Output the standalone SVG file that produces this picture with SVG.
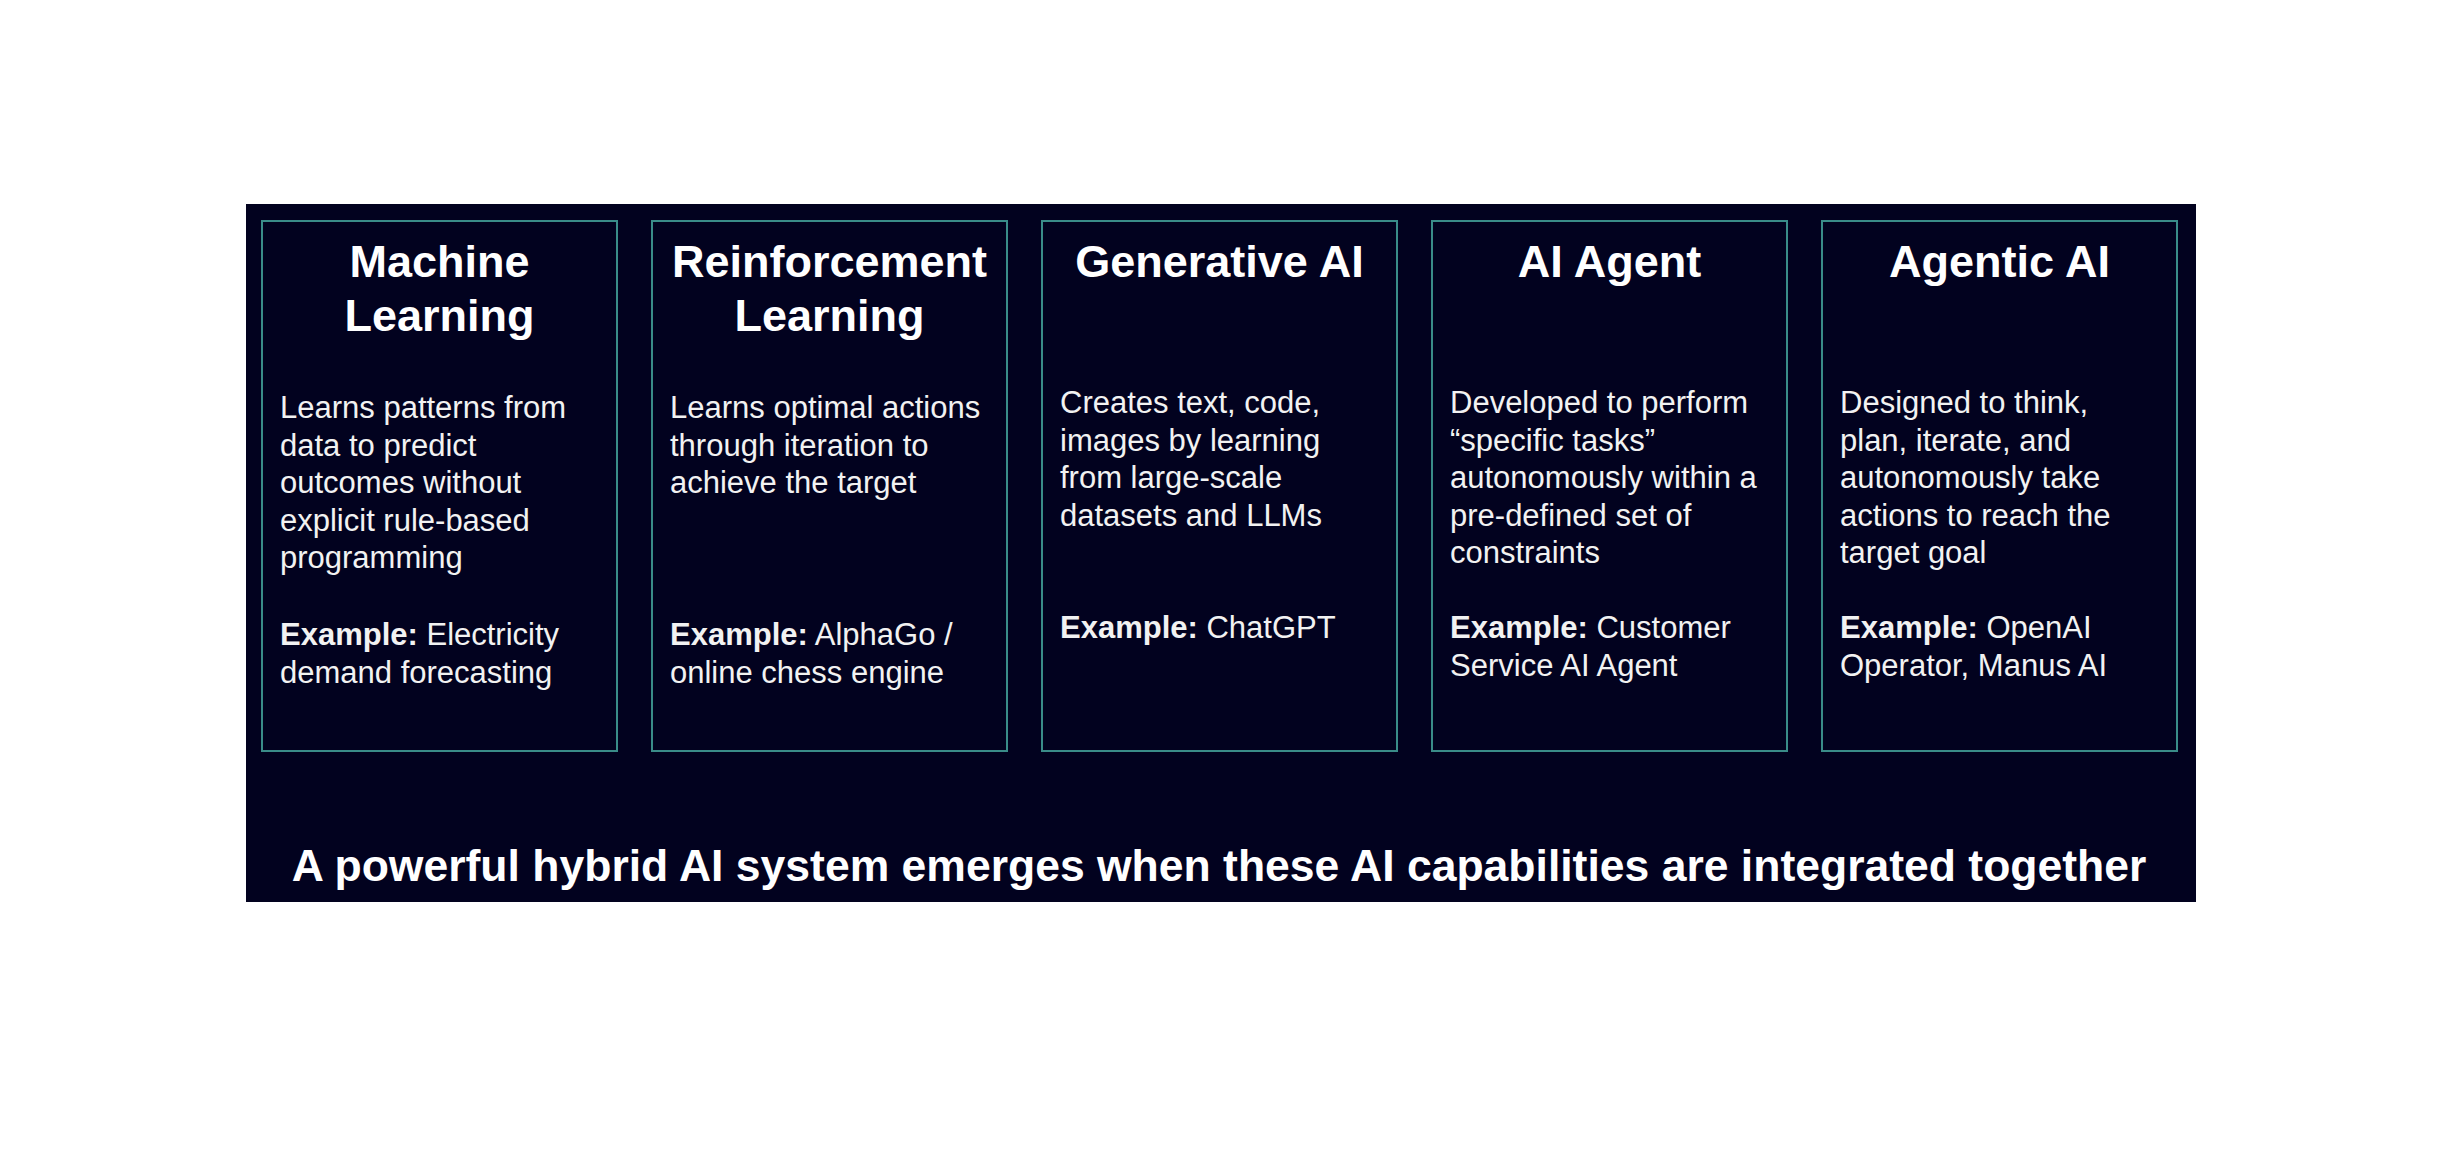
<svg xmlns="http://www.w3.org/2000/svg" width="2448" height="1154" viewBox="0 0 2448 1154">
<style>
.bg{fill:#02021f}
.box{fill:#02021f;stroke:#3a8c89;stroke-width:2}
.title{font-family:"Liberation Sans",Arial,sans-serif;font-weight:bold;font-size:45px;fill:#ffffff;text-anchor:middle}
.body{font-family:"Liberation Sans",Arial,sans-serif;font-size:31px;fill:#f2f2f2}
.b{font-weight:bold}
.foot{font-family:"Liberation Sans",Arial,sans-serif;font-weight:bold;font-size:44.5px;fill:#ffffff;text-anchor:middle}
</style>
<rect x="0" y="0" width="2448" height="1154" fill="#ffffff"/>
<rect class="bg" x="246" y="204" width="1950" height="698"/>
<g id="connectors"></g>
<g id="node-ml">
<rect class="box" x="262" y="221" width="355" height="530"/>
<text class="title" x="439.5" y="277">Machine</text>
<text class="title" x="439.5" y="331">Learning</text>
<text class="body" x="280" y="418">Learns patterns from</text>
<text class="body" x="280" y="455.5">data to predict</text>
<text class="body" x="280" y="493">outcomes without</text>
<text class="body" x="280" y="530.5">explicit rule-based</text>
<text class="body" x="280" y="568">programming</text>
<text class="body" x="280" y="645"><tspan class="b">Example:</tspan> Electricity</text>
<text class="body" x="280" y="682.5">demand forecasting</text>
</g>
<g id="node-rl">
<rect class="box" x="652" y="221" width="355" height="530"/>
<text class="title" x="829.5" y="277">Reinforcement</text>
<text class="title" x="829.5" y="331">Learning</text>
<text class="body" x="670" y="418">Learns optimal actions</text>
<text class="body" x="670" y="455.5">through iteration to</text>
<text class="body" x="670" y="493">achieve the target</text>
<text class="body" x="670" y="645"><tspan class="b">Example:</tspan> AlphaGo /</text>
<text class="body" x="670" y="682.5">online chess engine</text>
</g>
<g id="node-genai">
<rect class="box" x="1042" y="221" width="355" height="530"/>
<text class="title" x="1219.5" y="277">Generative AI</text>
<text class="body" x="1060" y="413">Creates text, code,</text>
<text class="body" x="1060" y="450.5">images by learning</text>
<text class="body" x="1060" y="488">from large-scale</text>
<text class="body" x="1060" y="525.5">datasets and LLMs</text>
<text class="body" x="1060" y="638"><tspan class="b">Example:</tspan> ChatGPT</text>
</g>
<g id="node-agent">
<rect class="box" x="1432" y="221" width="355" height="530"/>
<text class="title" x="1609.5" y="277">AI Agent</text>
<text class="body" x="1450" y="413">Developed to perform</text>
<text class="body" x="1450" y="450.5">“specific tasks”</text>
<text class="body" x="1450" y="488">autonomously within a</text>
<text class="body" x="1450" y="525.5">pre-defined set of</text>
<text class="body" x="1450" y="563">constraints</text>
<text class="body" x="1450" y="638"><tspan class="b">Example:</tspan> Customer</text>
<text class="body" x="1450" y="675.5">Service AI Agent</text>
</g>
<g id="node-agentic">
<rect class="box" x="1822" y="221" width="355" height="530"/>
<text class="title" x="1999.5" y="277">Agentic AI</text>
<text class="body" x="1840" y="413">Designed to think,</text>
<text class="body" x="1840" y="450.5">plan, iterate, and</text>
<text class="body" x="1840" y="488">autonomously take</text>
<text class="body" x="1840" y="525.5">actions to reach the</text>
<text class="body" x="1840" y="563">target goal</text>
<text class="body" x="1840" y="638"><tspan class="b">Example:</tspan> OpenAI</text>
<text class="body" x="1840" y="675.5">Operator, Manus AI</text>
</g>
<g id="footer">
<text class="foot" x="1219" y="881">A powerful hybrid AI system emerges when these AI capabilities are integrated together</text>
</g>
</svg>
